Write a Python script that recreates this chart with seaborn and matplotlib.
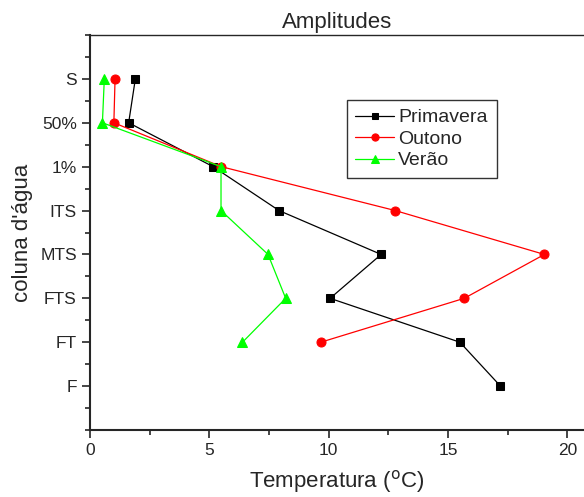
import numpy as np
import pandas as pd
import matplotlib
matplotlib.use("Agg")
import matplotlib.pyplot as plt
import seaborn as sns
from matplotlib.ticker import MultipleLocator

camadas = ["S", "50%", "1%", "ITS", "MTS", "FTS", "FT", "F"]
primavera = [1.9, 1.62, 5.16, 7.92, 12.2, 10.06, 15.5, 17.2]
outono = [1.05, 1.0, 5.5, 12.79, 19.04, 15.68, 9.67]
verao = [0.6, 0.52, 5.49, 5.49, 7.46, 8.2, 6.39]

sns.set_style("ticks")
plt.rcParams["font.family"] = ["Liberation Sans", "DejaVu Sans"]

fig = plt.figure(figsize=(5.84, 4.97), dpi=100)
ax = fig.add_axes([90 / 584, 67 / 497, 494 / 584, 395 / 497])

series = [("Primavera", primavera, "black", "s", 6),
          ("Outono", outono, "red", "o", 6.5),
          ("Verão", verao, "#00ff00", "^", 7)]
for nome, vals, cor, mk, ms in series:
    df = pd.DataFrame({"temp": vals, "pos": np.arange(1, len(vals) + 1)})
    sns.lineplot(data=df, x="temp", y="pos", sort=False, estimator=None,
                 color=cor, marker=mk, markersize=ms, markeredgecolor=cor,
                 linewidth=0.9, label=nome, ax=ax)

ax.set_xlim(0, 20.7)
ax.set_ylim(9, 0)
ax.set_yticks(np.arange(1, len(camadas) + 1))
ax.set_yticklabels(camadas)
ax.yaxis.set_minor_locator(MultipleLocator(0.5))
ax.xaxis.set_major_locator(MultipleLocator(5))
ax.xaxis.set_minor_locator(MultipleLocator(2.5))
ax.tick_params(axis="both", which="major", length=6, width=1.2, labelsize=12.5, direction="out")
ax.tick_params(axis="both", which="minor", length=3.5, width=1.2, direction="out")
for s in ["left", "bottom"]:
    ax.spines[s].set_linewidth(1.5)
ax.spines["top"].set_visible(True)
ax.spines["top"].set_linewidth(1.0)
ax.spines["right"].set_visible(False)

ax.set_title("Amplitudes", fontsize=16, pad=5)
ax.set_xlabel("Temperatura ($^{\\mathrm{o}}$C)", fontsize=16, labelpad=7)
ax.set_ylabel("coluna d'água", fontsize=16, labelpad=5)

leg = ax.legend(loc="upper left", bbox_to_anchor=(0.5, 0.86), frameon=True,
                fancybox=False, edgecolor="black", fontsize=14,
                handlelength=2.0, handletextpad=0.2, borderpad=0.45,
                labelspacing=0.2, markerscale=0.8)
leg.get_frame().set_linewidth(1.0)

fig.savefig("out.png", dpi=100)
